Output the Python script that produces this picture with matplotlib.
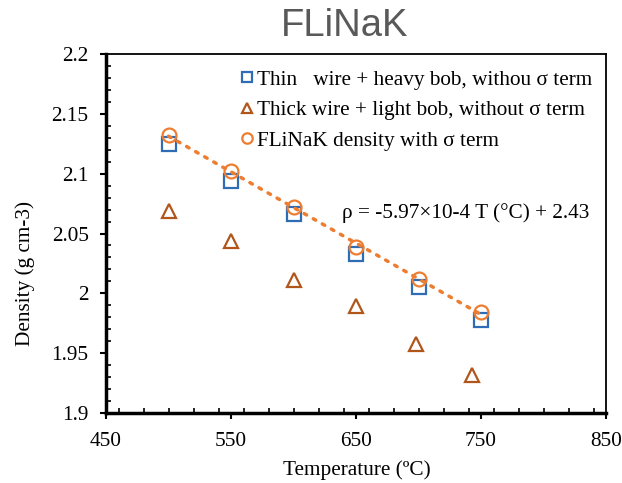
import numpy as np
import matplotlib
matplotlib.use("Agg")
import matplotlib.pyplot as plt
from matplotlib.ticker import MultipleLocator

# Data
temp = [500, 550, 600, 650, 700, 750]
thin_heavy = [2.125, 2.094, 2.066, 2.033, 2.005, 1.978]
temp_thick = [500, 550, 600, 650, 698, 743]
thick_light = [2.069, 2.044, 2.011, 1.989, 1.958, 1.932]
with_sigma = [2.132, 2.102, 2.072, 2.039, 2.012, 1.984]

labels = ["Thin   wire + heavy bob, withou σ term",
          "Thick wire + light bob, without σ term",
          "FLiNaK density with σ term"]
title = "FLiNaK"
xlabel = "Temperature (ºC)"
ylabel = "Density (g cm-3)"
equation = "ρ = -5.97×10-4 T (°C) + 2.43"
xticks = [450, 550, 650, 750, 850]
yticks = [1.9, 1.95, 2.0, 2.05, 2.1, 2.15, 2.2]
yticklabels = ["1.9", "1.95", "2", "2.05", "2.1", "2.15", "2.2"]

blue = "#2E6DB4"
brown = "#B0561A"
orange = "#ED7D31"

W, H = 622, 483
fig = plt.figure(figsize=(W / 100, H / 100), dpi=100)
ax = fig.add_axes([106 / W, 1 - 413 / H, 500 / W, 359 / H])

serif = "Liberation Serif"
fs = 15.3

ax.plot(temp, thin_heavy, ls="none", marker="s", ms=10, mfc="none",
        mec=blue, mew=1.6, label=labels[0], zorder=3)
ax.plot(temp_thick, thick_light, ls="none", marker="^", ms=10.5, mfc="none",
        mec=brown, mew=1.6, label=labels[1], zorder=3)
ax.plot(temp, with_sigma, ls="none", marker="o", ms=10, mfc="none",
        mec=orange, mew=1.6, label=labels[2], zorder=4)

# linear trendline over the sigma-term data
coef = np.polyfit(temp, with_sigma, 1)
tt = np.array([temp[0], temp[-1]])
ax.plot(tt, np.polyval(coef, tt), ls=(0, (0.8, 2.2)), color=orange, lw=2.5,
        dash_capstyle="round", zorder=3)

ax.set_xlim(450, 850)
ax.set_ylim(1.9, 2.2)
ax.xaxis.set_minor_locator(MultipleLocator(20))
ax.yaxis.set_minor_locator(MultipleLocator(0.01))
ax.set_xticks(xticks)
ax.set_xticklabels([str(v) for v in xticks])
ax.set_yticks(yticks)
ax.set_yticklabels(yticklabels)

ax.tick_params(which="major", direction="out", length=4.5, width=1.5,
               labelsize=fs)
ax.tick_params(which="minor", direction="in", length=3.5, width=1.2)
ax.tick_params(axis="y", which="major", pad=8)
ax.tick_params(axis="x", which="major", pad=9)
for lab in ax.get_xticklabels() + ax.get_yticklabels():
    lab.set_fontfamily(serif)

for side in ["left", "bottom"]:
    ax.spines[side].set_linewidth(2.5)
for side in ["top", "right"]:
    ax.spines[side].set_linewidth(1.3)

fig.text(357 / W, 1 - 470 / H, xlabel, fontfamily=serif, fontsize=fs,
         ha="center", va="center")
fig.text(25 / W, 1 - 273 / H, ylabel, fontfamily=serif, fontsize=fs,
         ha="center", va="center", rotation=90)

fig.text(345 / W, 1 - 26 / H, title, fontfamily="Liberation Sans",
         fontsize=27.5, color="#595959", ha="center", va="center")

fig.text(342 / W, 1 - 213 / H, equation, fontsize=fs, fontfamily=serif,
         ha="left", va="center")

leg = ax.legend(loc="upper left",
                bbox_to_anchor=((237 - 106) / 500, 1 - (70 - 54) / 359),
                frameon=False, prop={"family": serif, "size": fs},
                handletextpad=0.05, handlelength=0.9, labelspacing=0.5,
                borderpad=0, borderaxespad=0, markerscale=0.75)

fig.savefig("out.png", dpi=100)
